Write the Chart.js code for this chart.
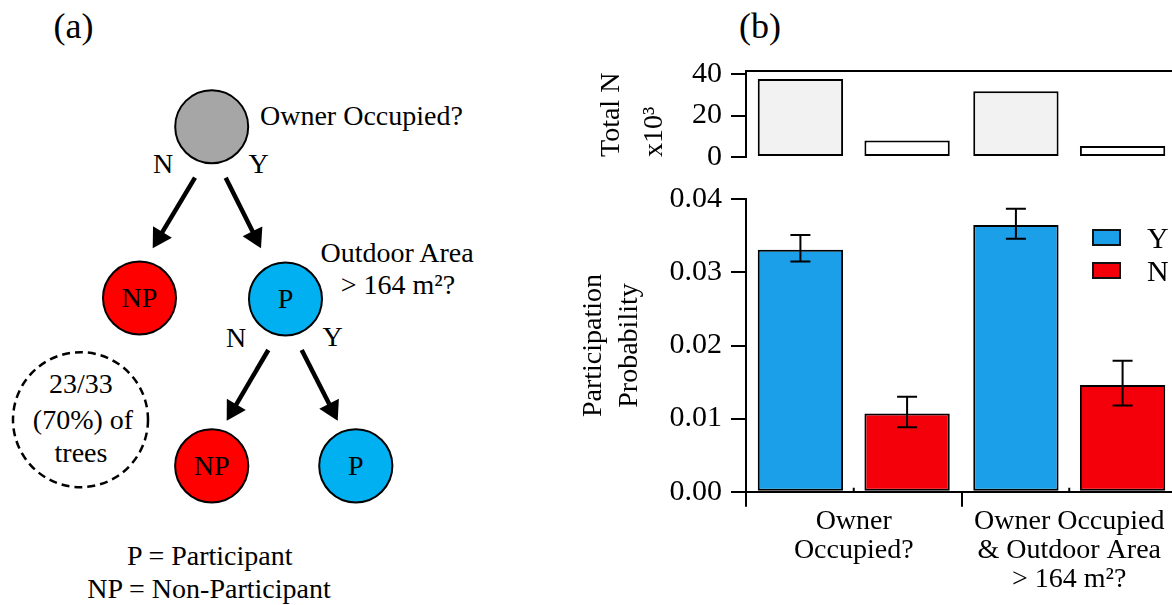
<!DOCTYPE html>
<html><head><meta charset="utf-8">
<script src="https://cdn.jsdelivr.net/npm/chart.js@4/dist/chart.umd.min.js"></script>
<style>
html,body{margin:0;padding:0;background:#fff;width:1172px;height:605px;overflow:hidden;position:relative;font-family:"Liberation Serif","Times New Roman",serif;}
#diagram{position:absolute;left:0;top:0;}
canvas{position:absolute;}
#topChart{left:570px;top:40px;}
#botChart{left:570px;top:180px;}
#legend{position:absolute;left:1092px;top:229px;}
.lrow{display:flex;align-items:center;height:17px;margin-bottom:15.5px;}
.lbox{width:29px;height:17px;box-sizing:border-box;border:2px solid #111;}
.ltxt{margin-left:26px;font-size:30px;line-height:17px;color:#000;}
</style></head>
<body>
<svg id="diagram" width="1172" height="605" xmlns="http://www.w3.org/2000/svg" font-family="Liberation Serif, Times New Roman, serif" font-size="28" fill="#000"></svg>
<canvas id="topChart" width="607" height="150"></canvas>
<canvas id="botChart" width="607" height="425"></canvas>
<div id="legend"></div>
<script>
// ---- data ----
const groups = [["Owner", "Occupied?"], ["Owner Occupied", "& Outdoor Area", "> 164 m²?"]];
const seriesNames = ["Y", "N"];
const totalY = [37.6, 31.7];
const totalN = [7.9, 5.3];
const totalTicks = [0, 20, 40];
const probY = [0.0331, 0.0365];
const probN = [0.0107, 0.0146];
const probYLow = [0.0315, 0.0346];
const probYHigh = [0.0351, 0.0387];
const probNLow = [0.0088, 0.0118];
const probNHigh = [0.0130, 0.0179];
const probTicks = [0, 0.01, 0.02, 0.03, 0.04];

const F = '"Liberation Serif", "Times New Roman", serif';
const colY = '#1a9fe8', colN = '#f3000b';

// ---- panel (a) diagram ----
const svg = document.getElementById('diagram');
const NS = 'http://www.w3.org/2000/svg';
function el(tag, attrs, text){ const e=document.createElementNS(NS,tag); for(const k in attrs) e.setAttribute(k,attrs[k]); if(text!==undefined) e.textContent=text; svg.appendChild(e); return e; }
function txt(x,y,s,anchor,size){ return el('text',{x:x,y:y,'text-anchor':anchor||'middle','font-size':size||28},s); }
function circ(cx,cy,r,fill,label){ el('circle',{cx:cx,cy:cy,r:r,fill:fill,stroke:'#000','stroke-width':2}); if(label) txt(cx,cy+9.3,label); }
function arrow(x1,y1,x2,y2){
  const dx=x2-x1, dy=y2-y1, L=Math.hypot(dx,dy), ux=dx/L, uy=dy/L, nx=-uy, ny=ux;
  const hl=19, hw=11; const bx=x2-ux*hl, by=y2-uy*hl;
  el('line',{x1:x1,y1:y1,x2:bx+ux*2,y2:by+uy*2,stroke:'#000','stroke-width':4.5});
  el('polygon',{points:`${x2},${y2} ${bx+nx*hw},${by+ny*hw} ${bx-nx*hw},${by-ny*hw}`,fill:'#000'});
}
txt(73.5,38,'(a)','middle',36);
txt(760,38,'(b)','middle',36);
circ(211.7,126.7,36.5,'#a6a6a6');
txt(260,125,'Owner Occupied?','start');
txt(163,173,'N'); txt(258.5,173,'Y');
arrow(195,177.7,152.7,248.3);
arrow(225.7,177.7,261,248.3);
circ(139.5,298,36.5,'#ff0000','NP');
circ(285.5,299,36.5,'#00b0f0','P');
txt(397,261.7,'Outdoor Area');
txt(398,294,'> 164 m²?');
txt(236,346.7,'N'); txt(332.5,346,'Y');
arrow(268.3,350,226.7,420.7);
arrow(301.7,350,337.7,420.7);
circ(211.7,465.8,36.6,'#ff0000','NP');
circ(355.8,465.8,36.6,'#00b0f0','P');
el('circle',{cx:80.5,cy:419.7,r:67.5,fill:'none',stroke:'#000','stroke-width':2.5,'stroke-dasharray':'8 5'});
txt(80.8,393,'23/33'); txt(83,428.5,'(70%) of'); txt(81,462,'trees');
txt(209.7,565,'P = Participant');
txt(209,598.3,'NP = Non-Participant');

// ---- panel (b) charts ----
Chart.defaults.font.family = F;
Chart.defaults.color = '#000';

const errorBars = {
  id:'errorBars',
  afterDatasetsDraw(chart){
    const ys = chart.scales.y, ctx = chart.ctx;
    chart.data.datasets.forEach((ds,di)=>{
      if(!ds.errLow) return;
      chart.getDatasetMeta(di).data.forEach((bar,i)=>{
        const x = bar.x, yl = ys.getPixelForValue(ds.errLow[i]), yh = ys.getPixelForValue(ds.errHigh[i]);
        ctx.save(); ctx.strokeStyle='#000'; ctx.lineWidth=2;
        ctx.beginPath();
        ctx.moveTo(x,yl); ctx.lineTo(x,yh);
        ctx.moveTo(x-10,yl); ctx.lineTo(x+10,yl);
        ctx.moveTo(x-10,yh); ctx.lineTo(x+10,yh);
        ctx.stroke(); ctx.restore();
      });
    });
  }
};
const minorTicks = {
  id:'minorTicks',
  afterDraw(chart){
    const xs = chart.scales.x, ctx = chart.ctx;
    ctx.save(); ctx.strokeStyle='#000'; ctx.lineWidth=2; ctx.beginPath();
    xs.ticks.forEach((t,i)=>{ const x = xs.getPixelForTick(i); ctx.moveTo(x, xs.top); ctx.lineTo(x, xs.top-4); });
    ctx.stroke(); ctx.restore();
  }
};

const gridOpts = {display:true, drawOnChartArea:false, drawTicks:true, tickLength:15, color:'#000', lineWidth:2};
const borderOpts = {display:true, color:'#000', width:2};
function fixY(s){ s.width = 176; s.paddingTop = 0; s.paddingBottom = 0; }

new Chart(document.getElementById('topChart'), {
  type:'bar',
  data:{ labels: groups, datasets:[
    {label:seriesNames[0], data: totalY, backgroundColor:'#f2f2f2', borderColor:'#000', borderWidth:2, borderSkipped:false, categoryPercentage:0.99, barPercentage:0.8},
    {label:seriesNames[1], data: totalN, backgroundColor:'#ffffff', borderColor:'#000', borderWidth:2, borderSkipped:false, categoryPercentage:0.99, barPercentage:0.8}
  ]},
  options:{
    responsive:false, animation:false, devicePixelRatio:1,
    layout:{autoPadding:false, padding:{top:31, bottom:33, left:0, right:0}},
    plugins:{legend:{display:false}, tooltip:{enabled:false}},
    scales:{
      x:{ position:'top', offset:true, afterFit(s){ s.height = 0; s.paddingLeft = 0; s.paddingRight = 0; },
          ticks:{display:false}, grid:{display:true, drawOnChartArea:false, drawTicks:false}, border:borderOpts },
      y:{ min:0, max:41.45, afterFit:fixY,
          afterBuildTicks(s){ s.ticks = totalTicks.map(v=>({value:v})); },
          ticks:{font:{size:30}, color:'#000', padding:9},
          grid:gridOpts, border:borderOpts,
          title:{display:true, align:'start', text:['Total N','x10³'], color:'#000', font:{size:28, lineHeight:43/28}, padding:{top:20,bottom:0}} }
    }
  }
});

const bot = new Chart(document.getElementById('botChart'), {
  type:'bar',
  data:{ labels: groups, datasets:[
    {label:seriesNames[0], data: probY, errLow: probYLow, errHigh: probYHigh, backgroundColor:colY, borderColor:'#000', borderWidth:2, borderSkipped:false, categoryPercentage:0.99, barPercentage:0.8},
    {label:seriesNames[1], data: probN, errLow: probNLow, errHigh: probNHigh, backgroundColor:colN, borderColor:'#000', borderWidth:2, borderSkipped:false, categoryPercentage:0.99, barPercentage:0.8}
  ]},
  options:{
    responsive:false, animation:false, devicePixelRatio:1,
    layout:{autoPadding:false, padding:{top:19.3, bottom:0, left:0, right:0}},
    plugins:{legend:{display:false}, tooltip:{enabled:false}},
    scales:{
      x:{ offset:true, afterFit(s){ s.height = 113.3; s.paddingLeft = 0; s.paddingRight = 0; },
          ticks:{font:{size:28, lineHeight:1.04}, color:'#000', padding:0, maxRotation:0, autoSkip:false},
          grid:Object.assign({offset:true}, gridOpts), border:borderOpts },
      y:{ min:0, max:0.04, afterFit:fixY,
          afterBuildTicks(s){ s.ticks = probTicks.map(v=>({value:v})); },
          ticks:{font:{size:30}, color:'#000', padding:9, callback:(v)=>Number(v).toFixed(2)},
          grid:gridOpts, border:borderOpts,
          title:{display:true, text:['Participation','Probability'], color:'#000', font:{size:28, lineHeight:36/28}, padding:{top:6,bottom:0}} }
    }
  },
  plugins:[errorBars, minorTicks]
});

// HTML legend from datasets
const lg = document.getElementById('legend');
bot.data.datasets.forEach(ds=>{
  const r=document.createElement('div'); r.className='lrow';
  const b=document.createElement('div'); b.className='lbox'; b.style.background=ds.backgroundColor;
  const t=document.createElement('span'); t.className='ltxt'; t.textContent=ds.label;
  r.appendChild(b); r.appendChild(t); lg.appendChild(r);
});
</script>
</body></html>
